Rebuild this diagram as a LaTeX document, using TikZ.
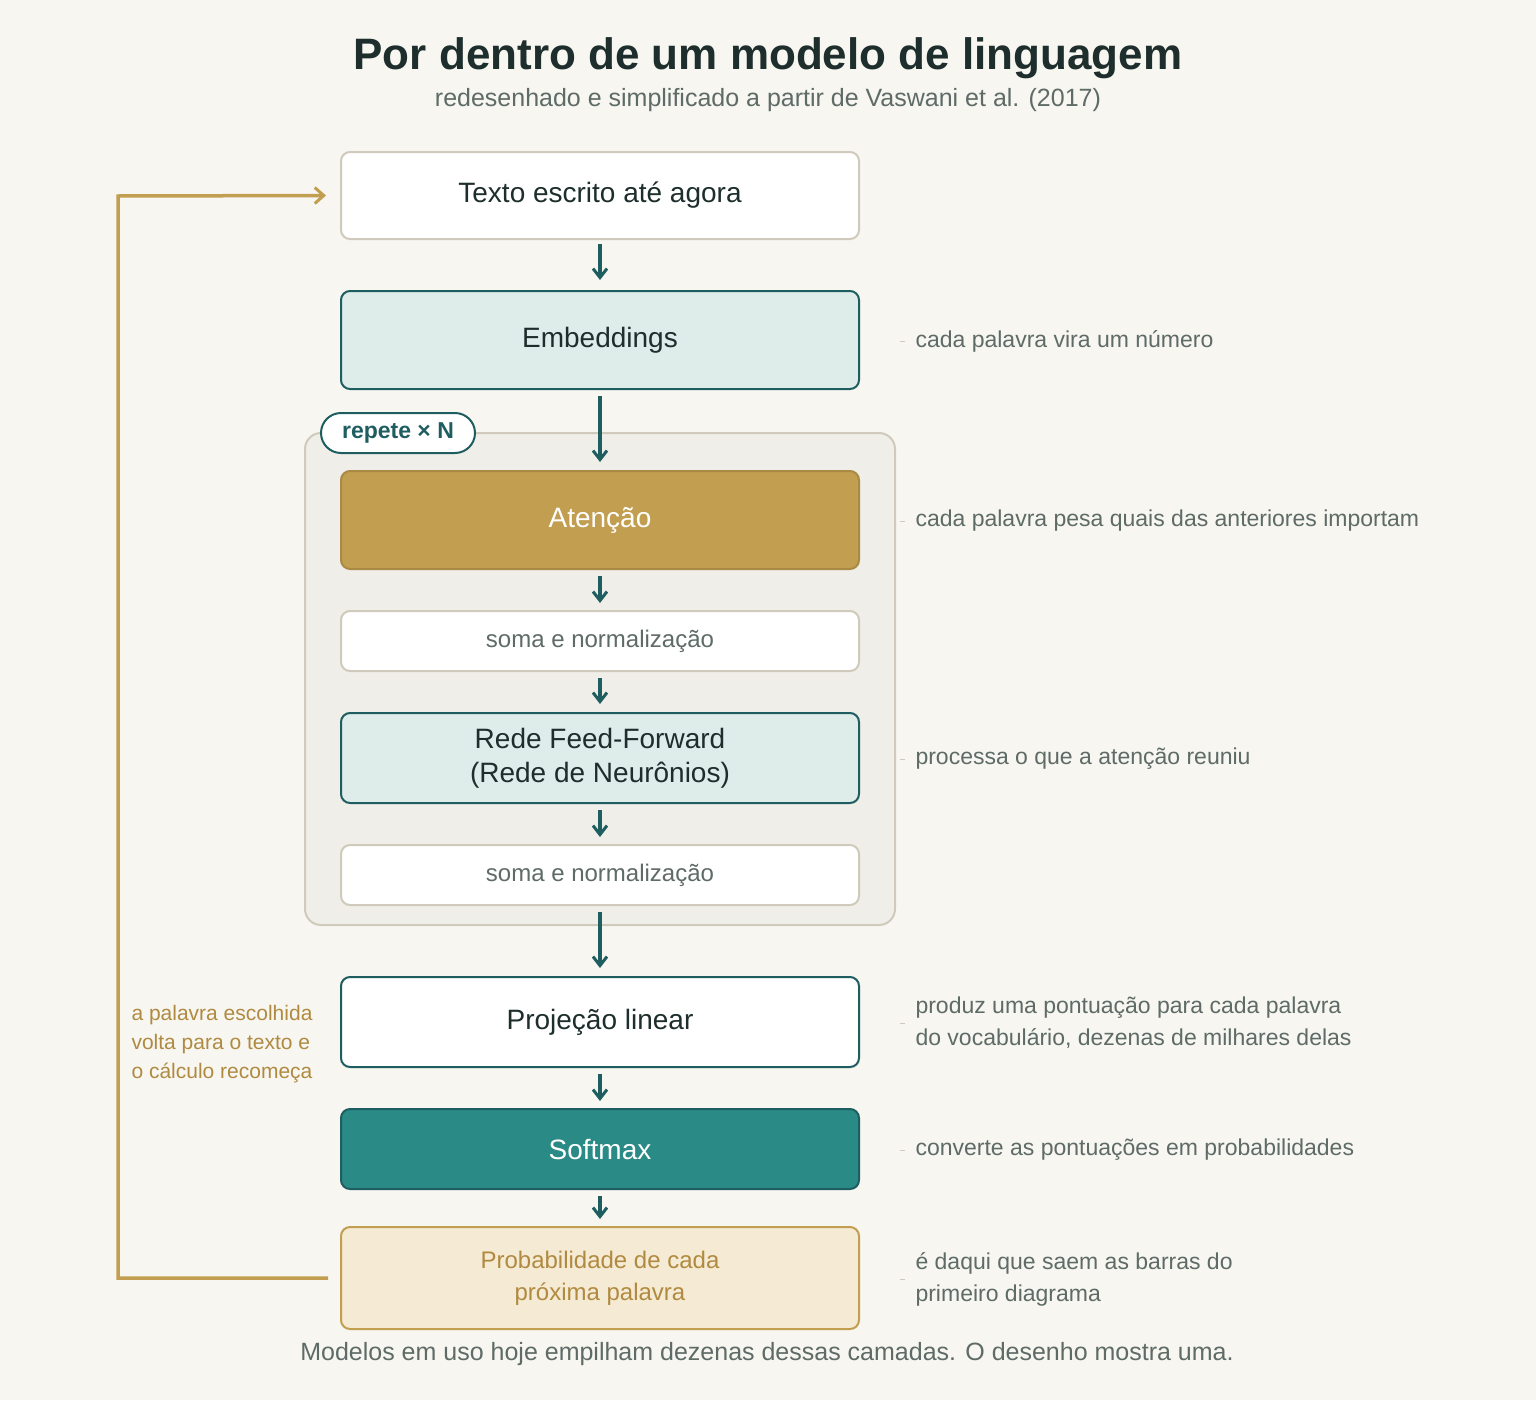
\documentclass[tikz,border=0pt]{standalone}
\usepackage{fontspec}
\setmainfont{Liberation Sans}
\usetikzlibrary{arrows.meta}
\definecolor{bg}{HTML}{F7F6F1}
\definecolor{teal}{HTML}{1F5E60}
\definecolor{tealf}{HTML}{2A8A86}
\definecolor{light}{HTML}{DEECEA}
\definecolor{gborder}{HTML}{CFCABB}
\definecolor{grp}{HTML}{F0EEE8}
\definecolor{gold}{HTML}{C29E50}
\definecolor{goldd}{HTML}{A88A45}
\definecolor{cream}{HTML}{F5EAD3}
\definecolor{goldt}{HTML}{B08A40}
\definecolor{dark}{HTML}{1E2E2C}
\definecolor{note}{HTML}{5E6B66}
\begin{document}
\begin{tikzpicture}[x=1pt,y=-1pt,
 box/.style={draw, line width=2pt, rounded corners=9pt, minimum width=518pt, align=center, text=dark, font=\fontsize{28}{34}\selectfont},
 arr/.style={-{Straight Barb[length=9pt,width=14pt,line width=3pt]}, draw=teal, line width=4pt},
 nt/.style={anchor=west, text=note, font=\fontsize{23}{32}\selectfont, align=left},
 tick/.style={draw=gborder, line width=1pt}]
\fill[bg] (0,0) rectangle (1536,1400);
\node[text=dark,font=\bfseries\fontsize{44}{50}\selectfont] (title) at (768,58) {Por dentro de um modelo de linguagem};
\node[text=note,font=\fontsize{25}{30}\selectfont] (sub) at (768,100) {redesenhado e simplificado a partir de Vaswani et al. (2017)};
\draw[gborder, fill=grp, line width=2pt, rounded corners=16pt] (305,433) rectangle (895,925);
\node[box, draw=gborder, fill=white, minimum height=87pt] (t) at (600,195.5) {Texto escrito até agora};
\node[box, draw=teal, fill=light, minimum height=98pt] (e) at (600,340) {Embeddings};
\node[draw=teal, fill=white, line width=2pt, rounded corners=20pt, minimum width=154pt, minimum height=40pt, text=teal, font=\bfseries\fontsize{23}{28}\selectfont] (rep) at (398,433) {repete × N};
\node[box, draw=goldd, fill=gold, minimum height=98pt, text=white] (a) at (600,520) {Atenção};
\node[box, draw=gborder, fill=white, minimum height=60pt, text=note, font=\fontsize{24}{30}\selectfont] (s1) at (600,641) {soma e normalização};
\node[box, draw=teal, fill=light, minimum height=90pt] (f) at (600,758) {Rede Feed-Forward\\(Rede de Neurônios)};
\node[box, draw=gborder, fill=white, minimum height=60pt, text=note, font=\fontsize{24}{30}\selectfont] (s2) at (600,875) {soma e normalização};
\node[box, draw=teal, fill=white, minimum height=90pt] (p) at (600,1022) {Projeção linear};
\node[box, draw=teal, fill=tealf, minimum height=80pt, text=white] (sm) at (600,1149) {Softmax};
\node[box, draw=gold, fill=cream, minimum height=102pt, text=goldt, font=\fontsize{24}{32}\selectfont] (pr) at (600,1278) {Probabilidade de cada\\próxima palavra};
\draw[arr] ([yshift=-4pt]t.south) -- ([yshift=-40pt]t.south);
\draw[arr] ([yshift=-6pt]e.south) -- ([yshift=8pt]a.north);
\draw[arr] ([yshift=-6pt]a.south) -- ([yshift=-33pt]a.south);
\draw[arr] ([yshift=-6pt]s1.south) -- ([yshift=-32pt]s1.south);
\draw[arr] ([yshift=-6pt]f.south) -- ([yshift=-33pt]f.south);
\draw[arr] ([yshift=-6pt]s2.south) -- ([yshift=8pt]p.north);
\draw[arr] ([yshift=-6pt]p.south) -- ([yshift=-33pt]p.south);
\draw[arr] ([yshift=-6pt]sm.south) -- ([yshift=-29pt]sm.south);
\coordinate (l1) at (118,1278);
\coordinate (l2) at (118,196);
\draw[gold, line width=3.5pt, -{Straight Barb[length=9pt,width=16pt,line width=3pt]}] ([xshift=-12pt]pr.west) -- (l1) -- (l2) -- ([xshift=-14pt]t.west);
\node[anchor=north west, text=goldt, align=left, font=\fontsize{21}{29}\selectfont] (lp) at (128,1002) {a palavra escolhida\\volta para o texto e\\o cálculo recomeça};
\foreach \y/\n/\txt in {341/n1/{cada palavra vira um número},521/n2/{cada palavra pesa quais das anteriores importam},759/n3/{processa o que a atenção reuniu},1023/n4/{produz uma pontuação para cada palavra\\do vocabulário, dezenas de milhares delas},1150/n5/{converte as pontuações em probabilidades},1279/n6/{é daqui que saem as barras do\\primeiro diagrama}}{
 \draw[tick] (900,\y) -- (905,\y);
 \node[nt] (\n) at (912,\y) {\txt};
}
\node[text=note,font=\fontsize{25}{30}\selectfont] (foot) at (767,1354) {Modelos em uso hoje empilham dezenas dessas camadas. O desenho mostra uma.};
\end{tikzpicture}
\end{document}
